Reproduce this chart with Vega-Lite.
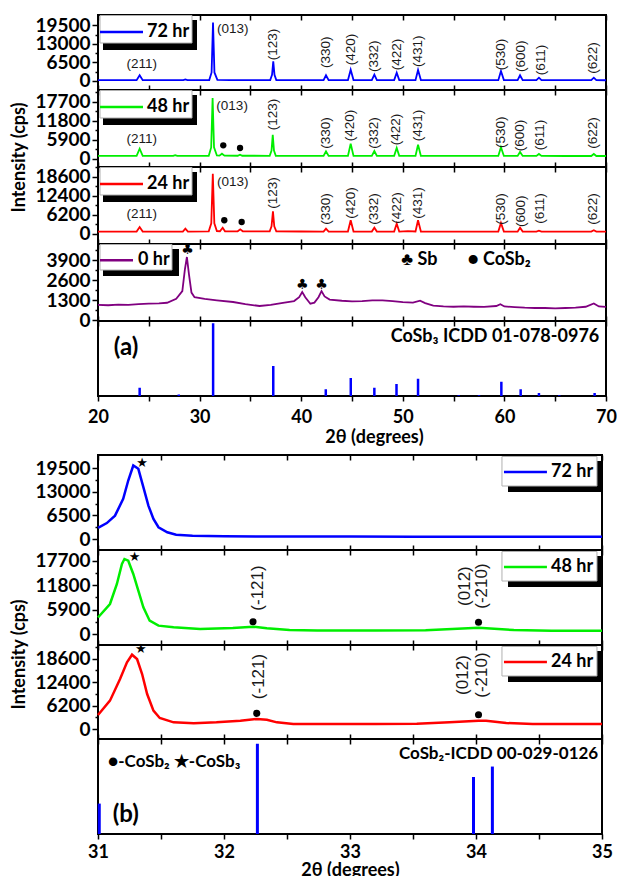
{
 "$schema": "https://vega.github.io/schema/vega-lite/v6.json",
 "padding": {"left": 9, "top": 13, "right": 0, "bottom": 0},
 "background": "white",
 "config": {
  "view": {"stroke": "black", "strokeWidth": 2},
  "axis": {"grid": false, "domain": false, "tickColor": "black", "tickWidth": 1.5, "labelFont": "Lato", "labelFontSize": 18, "labelFontWeight": "bold", "labelColor": "black", "titleFont": "Lato", "titleFontSize": 18, "titleFontWeight": "bold", "titleColor": "black", "labelOverlap": false},
  "axisY": {"labelPadding": 2, "titlePadding": 6, "labelFontSize": 19, "labelOverlap": false},
  "axisX": {"labelFlush": false},
  "text": {"font": "Liberation Sans", "fontSize": 13.5, "color": "#1a1a1a"}
 },
 "datasets": {
  "a72": [
   {"s":"72 hr","x":20,"y":280},{"s":"72 hr","x":22,"y":300},{"s":"72 hr","x":23.8,"y":290},{"s":"72 hr","x":24.1,"y":2000},{"s":"72 hr","x":24.4,"y":300},{"s":"72 hr","x":26,"y":290},{"s":"72 hr","x":28.4,"y":290},{"s":"72 hr","x":28.6,"y":550},{"s":"72 hr","x":28.8,"y":300},{"s":"72 hr","x":30.95,"y":320},{"s":"72 hr","x":31.18,"y":3000},{"s":"72 hr","x":31.32,"y":20500},{"s":"72 hr","x":31.46,"y":3000},{"s":"72 hr","x":31.75,"y":380},{"s":"72 hr","x":33,"y":330},{"s":"72 hr","x":35,"y":300},{"s":"72 hr","x":36.95,"y":310},{"s":"72 hr","x":37.13,"y":2200},{"s":"72 hr","x":37.25,"y":6900},{"s":"72 hr","x":37.37,"y":2200},{"s":"72 hr","x":37.55,"y":320},{"s":"72 hr","x":40,"y":300},{"s":"72 hr","x":42.2,"y":300},{"s":"72 hr","x":42.44,"y":2000},{"s":"72 hr","x":42.7,"y":300},{"s":"72 hr","x":44.6,"y":310},{"s":"72 hr","x":44.87,"y":3970},{"s":"72 hr","x":45.15,"y":320},{"s":"72 hr","x":46.95,"y":310},{"s":"72 hr","x":47.2,"y":2200},{"s":"72 hr","x":47.45,"y":310},{"s":"72 hr","x":49.15,"y":310},{"s":"72 hr","x":49.4,"y":2900},{"s":"72 hr","x":49.65,"y":310},{"s":"72 hr","x":51.25,"y":310},{"s":"72 hr","x":51.5,"y":3850},{"s":"72 hr","x":51.78,"y":310},{"s":"72 hr","x":55,"y":290},{"s":"72 hr","x":59.4,"y":300},{"s":"72 hr","x":59.66,"y":3500},{"s":"72 hr","x":59.95,"y":300},{"s":"72 hr","x":61.3,"y":290},{"s":"72 hr","x":61.54,"y":2000},{"s":"72 hr","x":61.8,"y":290},{"s":"72 hr","x":63.15,"y":280},{"s":"72 hr","x":63.4,"y":1150},{"s":"72 hr","x":63.65,"y":280},{"s":"72 hr","x":66,"y":280},{"s":"72 hr","x":68.55,"y":280},{"s":"72 hr","x":68.8,"y":1150},{"s":"72 hr","x":69.05,"y":280},{"s":"72 hr","x":70,"y":270}
  ],
  "a48": [
   {"s":"48 hr","x":20,"y":850},{"s":"48 hr","x":22,"y":870},{"s":"48 hr","x":23.8,"y":870},{"s":"48 hr","x":24.1,"y":3100},{"s":"48 hr","x":24.4,"y":880},{"s":"48 hr","x":26,"y":870},{"s":"48 hr","x":27.4,"y":870},{"s":"48 hr","x":27.6,"y":1100},{"s":"48 hr","x":27.8,"y":870},{"s":"48 hr","x":30.9,"y":900},{"s":"48 hr","x":31.14,"y":3500},{"s":"48 hr","x":31.28,"y":18850},{"s":"48 hr","x":31.42,"y":3500},{"s":"48 hr","x":31.7,"y":1000},{"s":"48 hr","x":31.95,"y":950},{"s":"48 hr","x":32.2,"y":1550},{"s":"48 hr","x":32.45,"y":950},{"s":"48 hr","x":33.75,"y":920},{"s":"48 hr","x":33.98,"y":1250},{"s":"48 hr","x":34.2,"y":920},{"s":"48 hr","x":36.9,"y":900},{"s":"48 hr","x":37.08,"y":2500},{"s":"48 hr","x":37.2,"y":7450},{"s":"48 hr","x":37.32,"y":2500},{"s":"48 hr","x":37.5,"y":900},{"s":"48 hr","x":40,"y":880},{"s":"48 hr","x":42.2,"y":870},{"s":"48 hr","x":42.44,"y":2300},{"s":"48 hr","x":42.7,"y":870},{"s":"48 hr","x":44.6,"y":880},{"s":"48 hr","x":44.87,"y":4660},{"s":"48 hr","x":45.15,"y":880},{"s":"48 hr","x":46.95,"y":870},{"s":"48 hr","x":47.2,"y":2390},{"s":"48 hr","x":47.45,"y":870},{"s":"48 hr","x":49.15,"y":870},{"s":"48 hr","x":49.4,"y":3320},{"s":"48 hr","x":49.65,"y":870},{"s":"48 hr","x":51.25,"y":880},{"s":"48 hr","x":51.5,"y":4350},{"s":"48 hr","x":51.78,"y":880},{"s":"48 hr","x":55,"y":860},{"s":"48 hr","x":59.4,"y":860},{"s":"48 hr","x":59.66,"y":3540},{"s":"48 hr","x":59.95,"y":860},{"s":"48 hr","x":61.3,"y":850},{"s":"48 hr","x":61.54,"y":2080},{"s":"48 hr","x":61.8,"y":850},{"s":"48 hr","x":63.15,"y":850},{"s":"48 hr","x":63.4,"y":1460},{"s":"48 hr","x":63.65,"y":850},{"s":"48 hr","x":66,"y":840},{"s":"48 hr","x":68.55,"y":840},{"s":"48 hr","x":68.8,"y":1460},{"s":"48 hr","x":69.05,"y":840},{"s":"48 hr","x":70,"y":830}
  ],
  "a24": [
   {"s":"24 hr","x":20,"y":780},{"s":"24 hr","x":22,"y":800},{"s":"24 hr","x":23.8,"y":800},{"s":"24 hr","x":24.1,"y":2280},{"s":"24 hr","x":24.4,"y":800},{"s":"24 hr","x":26,"y":790},{"s":"24 hr","x":28.35,"y":800},{"s":"24 hr","x":28.6,"y":1730},{"s":"24 hr","x":28.85,"y":800},{"s":"24 hr","x":30.9,"y":850},{"s":"24 hr","x":31.15,"y":3500},{"s":"24 hr","x":31.3,"y":19660},{"s":"24 hr","x":31.45,"y":3500},{"s":"24 hr","x":31.7,"y":950},{"s":"24 hr","x":32.0,"y":900},{"s":"24 hr","x":32.27,"y":2050},{"s":"24 hr","x":32.5,"y":900},{"s":"24 hr","x":33.75,"y":880},{"s":"24 hr","x":34.0,"y":1520},{"s":"24 hr","x":34.25,"y":870},{"s":"24 hr","x":36.9,"y":850},{"s":"24 hr","x":37.08,"y":2500},{"s":"24 hr","x":37.22,"y":7400},{"s":"24 hr","x":37.35,"y":2500},{"s":"24 hr","x":37.55,"y":850},{"s":"24 hr","x":40,"y":820},{"s":"24 hr","x":42.2,"y":800},{"s":"24 hr","x":42.44,"y":1740},{"s":"24 hr","x":42.7,"y":800},{"s":"24 hr","x":44.6,"y":810},{"s":"24 hr","x":44.87,"y":4460},{"s":"24 hr","x":45.15,"y":810},{"s":"24 hr","x":46.95,"y":800},{"s":"24 hr","x":47.2,"y":2060},{"s":"24 hr","x":47.45,"y":800},{"s":"24 hr","x":49.15,"y":800},{"s":"24 hr","x":49.4,"y":3370},{"s":"24 hr","x":49.65,"y":800},{"s":"24 hr","x":50.5,"y":950},{"s":"24 hr","x":51.25,"y":810},{"s":"24 hr","x":51.5,"y":4460},{"s":"24 hr","x":51.78,"y":810},{"s":"24 hr","x":55,"y":790},{"s":"24 hr","x":59.4,"y":790},{"s":"24 hr","x":59.66,"y":3590},{"s":"24 hr","x":59.95,"y":790},{"s":"24 hr","x":61.3,"y":780},{"s":"24 hr","x":61.54,"y":2060},{"s":"24 hr","x":61.8,"y":780},{"s":"24 hr","x":63.15,"y":780},{"s":"24 hr","x":63.4,"y":1100},{"s":"24 hr","x":63.65,"y":780},{"s":"24 hr","x":66,"y":780},{"s":"24 hr","x":68.55,"y":770},{"s":"24 hr","x":68.8,"y":1200},{"s":"24 hr","x":69.05,"y":770},{"s":"24 hr","x":70,"y":760}
  ],
  "a0": [
   {"s":"0 hr","x":20,"y":1000},{"s":"0 hr","x":21,"y":980},{"s":"0 hr","x":22,"y":1020},{"s":"0 hr","x":23,"y":1000},{"s":"0 hr","x":24,"y":1050},{"s":"0 hr","x":25,"y":1080},{"s":"0 hr","x":26,"y":1100},{"s":"0 hr","x":26.8,"y":1140},{"s":"0 hr","x":27.7,"y":1400},{"s":"0 hr","x":28.3,"y":1900},{"s":"0 hr","x":28.55,"y":3300},{"s":"0 hr","x":28.75,"y":4115},{"s":"0 hr","x":28.95,"y":3000},{"s":"0 hr","x":29.2,"y":1800},{"s":"0 hr","x":29.5,"y":1500},{"s":"0 hr","x":30.5,"y":1400},{"s":"0 hr","x":31.7,"y":1300},{"s":"0 hr","x":33.3,"y":1190},{"s":"0 hr","x":34.5,"y":1050},{"s":"0 hr","x":35.9,"y":930},{"s":"0 hr","x":37,"y":1000},{"s":"0 hr","x":38.2,"y":1140},{"s":"0 hr","x":39.3,"y":1250},{"s":"0 hr","x":39.8,"y":1500},{"s":"0 hr","x":40.1,"y":1840},{"s":"0 hr","x":40.4,"y":1500},{"s":"0 hr","x":40.9,"y":1080},{"s":"0 hr","x":41.3,"y":1150},{"s":"0 hr","x":41.7,"y":1500},{"s":"0 hr","x":42.0,"y":1900},{"s":"0 hr","x":42.3,"y":1550},{"s":"0 hr","x":42.8,"y":1350},{"s":"0 hr","x":44,"y":1270},{"s":"0 hr","x":45,"y":1230},{"s":"0 hr","x":46,"y":1250},{"s":"0 hr","x":47,"y":1300},{"s":"0 hr","x":48,"y":1290},{"s":"0 hr","x":49,"y":1250},{"s":"0 hr","x":50,"y":1180},{"s":"0 hr","x":51,"y":1150},{"s":"0 hr","x":51.7,"y":1280},{"s":"0 hr","x":52.2,"y":1120},{"s":"0 hr","x":53,"y":960},{"s":"0 hr","x":54,"y":900},{"s":"0 hr","x":55,"y":880},{"s":"0 hr","x":56,"y":900},{"s":"0 hr","x":57,"y":880},{"s":"0 hr","x":58,"y":870},{"s":"0 hr","x":59.2,"y":930},{"s":"0 hr","x":59.6,"y":1050},{"s":"0 hr","x":60,"y":900},{"s":"0 hr","x":61,"y":860},{"s":"0 hr","x":62,"y":820},{"s":"0 hr","x":63,"y":800},{"s":"0 hr","x":64,"y":800},{"s":"0 hr","x":65,"y":780},{"s":"0 hr","x":66,"y":800},{"s":"0 hr","x":67,"y":820},{"s":"0 hr","x":68,"y":880},{"s":"0 hr","x":68.8,"y":1100},{"s":"0 hr","x":69.3,"y":900},{"s":"0 hr","x":70,"y":870}
  ],
  "aref": [
   {"x":24.1,"h":11},{"x":27.95,"h":2},{"x":31.33,"h":97},{"x":37.25,"h":40},{"x":42.42,"h":9},{"x":44.88,"h":24},{"x":47.2,"h":11},{"x":49.38,"h":16},{"x":51.5,"h":23},{"x":55.5,"h":1},{"x":57.5,"h":1},{"x":59.7,"h":19},{"x":61.6,"h":9},{"x":63.4,"h":4},{"x":65.4,"h":1},{"x":68.88,"h":4}
  ],
  "hkl": [
   {"p":"72 hr","t":"(123)","x":37.25,"y":7270},{"p":"72 hr","t":"(330)","x":42.44,"y":4560},{"p":"72 hr","t":"(420)","x":44.87,"y":5500},{"p":"72 hr","t":"(332)","x":47.2,"y":3160},{"p":"72 hr","t":"(422)","x":49.4,"y":3750},{"p":"72 hr","t":"(431)","x":51.5,"y":4910},{"p":"72 hr","t":"(530)","x":59.7,"y":3750},{"p":"72 hr","t":"(600)","x":61.6,"y":3160},{"p":"72 hr","t":"(611)","x":63.6,"y":2000},{"p":"72 hr","t":"(622)","x":68.75,"y":2580},
   {"p":"48 hr","t":"(123)","x":37.2,"y":8800},{"p":"48 hr","t":"(330)","x":42.4,"y":3100},{"p":"48 hr","t":"(420)","x":44.85,"y":5400},{"p":"48 hr","t":"(332)","x":47.15,"y":3100},{"p":"48 hr","t":"(422)","x":49.35,"y":4150},{"p":"48 hr","t":"(431)","x":51.45,"y":5400},{"p":"48 hr","t":"(530)","x":59.65,"y":3320},{"p":"48 hr","t":"(600)","x":61.55,"y":2300},{"p":"48 hr","t":"(611)","x":63.5,"y":2600},{"p":"48 hr","t":"(622)","x":68.7,"y":3100},
   {"p":"24 hr","t":"(123)","x":37.25,"y":8250},{"p":"24 hr","t":"(330)","x":42.44,"y":3040},{"p":"24 hr","t":"(420)","x":44.87,"y":4990},{"p":"24 hr","t":"(332)","x":47.15,"y":3040},{"p":"24 hr","t":"(422)","x":49.4,"y":3360},{"p":"24 hr","t":"(431)","x":51.5,"y":4990},{"p":"24 hr","t":"(530)","x":59.7,"y":3040},{"p":"24 hr","t":"(600)","x":61.6,"y":2280},{"p":"24 hr","t":"(611)","x":63.55,"y":3360},{"p":"24 hr","t":"(622)","x":68.75,"y":3040}
  ],
  "hklh": [
   {"p":"72 hr","t":"(211)","x":24.3,"y":5970},{"p":"72 hr","t":"(013)","x":33.26,"y":18250},
   {"p":"48 hr","t":"(211)","x":24.3,"y":6000},{"p":"48 hr","t":"(013)","x":33.2,"y":16360},
   {"p":"24 hr","t":"(211)","x":24.3,"y":6620},{"p":"24 hr","t":"(013)","x":33.26,"y":16950}
  ],
  "dotsa": [
   {"p":"48 hr","x":32.33,"y":4160},{"p":"48 hr","x":33.98,"y":3320},
   {"p":"24 hr","x":32.43,"y":4470},{"p":"24 hr","x":34.14,"y":3910}
  ],
  "b72": [
   {"s":"72 hr","x":31.0,"y":3100},{"s":"72 hr","x":31.07,"y":4400},{"s":"72 hr","x":31.135,"y":6450},{"s":"72 hr","x":31.2,"y":11060},{"s":"72 hr","x":31.24,"y":16130},{"s":"72 hr","x":31.28,"y":20280},{"s":"72 hr","x":31.32,"y":19360},{"s":"72 hr","x":31.36,"y":14300},{"s":"72 hr","x":31.4,"y":9210},{"s":"72 hr","x":31.44,"y":5530},{"s":"72 hr","x":31.48,"y":3240},{"s":"72 hr","x":31.55,"y":1850},{"s":"72 hr","x":31.62,"y":1200},{"s":"72 hr","x":31.75,"y":900},{"s":"72 hr","x":32.0,"y":760},{"s":"72 hr","x":32.5,"y":690},{"s":"72 hr","x":33.0,"y":660},{"s":"72 hr","x":33.5,"y":650},{"s":"72 hr","x":34.0,"y":640},{"s":"72 hr","x":34.5,"y":630},{"s":"72 hr","x":35.0,"y":620}
  ],
  "b48": [
   {"s":"48 hr","x":31.0,"y":4000},{"s":"48 hr","x":31.095,"y":7260},{"s":"48 hr","x":31.15,"y":12100},{"s":"48 hr","x":31.19,"y":16940},{"s":"48 hr","x":31.21,"y":18150},{"s":"48 hr","x":31.24,"y":17740},{"s":"48 hr","x":31.28,"y":14520},{"s":"48 hr","x":31.32,"y":10480},{"s":"48 hr","x":31.36,"y":6450},{"s":"48 hr","x":31.41,"y":3230},{"s":"48 hr","x":31.48,"y":2020},{"s":"48 hr","x":31.6,"y":1610},{"s":"48 hr","x":31.81,"y":1210},{"s":"48 hr","x":32.07,"y":1450},{"s":"48 hr","x":32.23,"y":1770},{"s":"48 hr","x":32.34,"y":1370},{"s":"48 hr","x":32.52,"y":970},{"s":"48 hr","x":32.74,"y":850},{"s":"48 hr","x":33.2,"y":850},{"s":"48 hr","x":33.6,"y":900},{"s":"48 hr","x":34.02,"y":1500},{"s":"48 hr","x":34.3,"y":950},{"s":"48 hr","x":34.6,"y":800},{"s":"48 hr","x":35.0,"y":800}
  ],
  "b24": [
   {"s":"24 hr","x":31.0,"y":3700},{"s":"24 hr","x":31.095,"y":7480},{"s":"24 hr","x":31.175,"y":13200},{"s":"24 hr","x":31.23,"y":17600},{"s":"24 hr","x":31.27,"y":19620},{"s":"24 hr","x":31.31,"y":18480},{"s":"24 hr","x":31.35,"y":14520},{"s":"24 hr","x":31.39,"y":9240},{"s":"24 hr","x":31.44,"y":4840},{"s":"24 hr","x":31.49,"y":2900},{"s":"24 hr","x":31.6,"y":1760},{"s":"24 hr","x":31.76,"y":1500},{"s":"24 hr","x":31.94,"y":1760},{"s":"24 hr","x":32.13,"y":2200},{"s":"24 hr","x":32.26,"y":2640},{"s":"24 hr","x":32.34,"y":2460},{"s":"24 hr","x":32.42,"y":1760},{"s":"24 hr","x":32.55,"y":1320},{"s":"24 hr","x":32.74,"y":1320},{"s":"24 hr","x":33.2,"y":1320},{"s":"24 hr","x":33.53,"y":1400},{"s":"24 hr","x":33.79,"y":1760},{"s":"24 hr","x":34.02,"y":2200},{"s":"24 hr","x":34.08,"y":2200},{"s":"24 hr","x":34.24,"y":1580},{"s":"24 hr","x":34.45,"y":1320},{"s":"24 hr","x":35.0,"y":1320}
  ],
  "bref": [
   {"x":31.01,"h":32},{"x":32.265,"h":95},{"x":33.98,"h":60},{"x":34.13,"h":71}
  ],
  "starsb": [
   {"p":"72 hr","x":31.35,"y":21020},{"p":"48 hr","x":31.29,"y":18560},{"p":"24 hr","x":31.34,"y":21100}
  ],
  "dotsb": [
   {"p":"48 hr","x":32.23,"y":2980},{"p":"48 hr","x":34.02,"y":2830},
   {"p":"24 hr","x":32.26,"y":4130},{"p":"24 hr","x":34.02,"y":3780}
  ],
  "labb": [
   {"p":"48 hr","t":"(-121)","x":32.27,"y":11130},{"p":"48 hr","t":"(012)","x":33.91,"y":11600},{"p":"48 hr","t":"(-210)","x":34.05,"y":11600},
   {"p":"24 hr","t":"(-121)","x":32.28,"y":13860},{"p":"24 hr","t":"(012)","x":33.9,"y":14250},{"p":"24 hr","t":"(-210)","x":34.05,"y":14250}
  ]
 },
 "spacing": 6,
 "vconcat": [
  {
   "spacing": 0,
   "bounds": "flush",
   "vconcat": [
    {
     "width": 508, "height": 75,
     "resolve": {"axis": {"x": "independent"}},
     "layer": [
      {"data": {"name": "a72"}, "mark": {"type": "line", "strokeWidth": 1.8, "color": "#0000ff"},
       "encoding": {
        "x": {"field": "x", "type": "quantitative", "scale": {"domain": [20, 70], "nice": false, "zero": false}, "axis": {"values": [20,25,30,35,40,45,50,55,60,65,70], "labels": false, "tickSize": -5, "offset": 0, "title": null}},
        "y": {"field": "y", "type": "quantitative", "scale": {"domain": [-3160, 23170], "nice": false, "zero": false}, "axis": {"values": [0,3250,6500,9750,13000,16250,19500], "tickCount": 20, "labelExpr": "datum.value % 6500 === 0 ? format(datum.value, 'd') : ''", "tickSize": {"condition": {"test": "datum.value % 6500 === 0", "value": 6}, "value": 3}, "labelOverlap": false, "title": null}}
       }},
      {"data": {"name": "a72"}, "mark": {"type": "point", "opacity": 0},
       "encoding": {
        "x": {"field": "x", "type": "quantitative", "axis": {"orient": "top", "values": [20,25,30,35,40,45,50,55,60,65,70], "labels": false, "tickSize": -5, "offset": 0, "title": null}},
        "y": {"field": "y", "type": "quantitative"}
       }},
      {"data": {"values": [{}]}, "mark": {"type": "rect", "color": "black"},
       "encoding": {"x": {"datum": 20.492, "type": "quantitative", "axis": null}, "x2": {"datum": 29.744}, "y": {"datum": 21415, "type": "quantitative"}, "y2": {"datum": 10883}}},
      {"data": {"values": [{}]}, "mark": {"type": "rect", "fill": "white", "stroke": "#b0b0b0", "strokeWidth": 1},
       "encoding": {"x": {"datum": 20.197, "type": "quantitative", "axis": null}, "x2": {"datum": 29.252}, "y": {"datum": 22994, "type": "quantitative"}, "y2": {"datum": 13340}}},
      {"data": {"values": [{}]}, "mark": {"type": "rule", "color": "#0000ff", "strokeWidth": 2.5},
       "encoding": {"x": {"datum": 20.197, "type": "quantitative", "axis": null}, "x2": {"datum": 24.429}, "y": {"datum": 17202, "type": "quantitative"}}},
      {"data": {"values": [{"t": "72 hr"}]}, "mark": {"type": "text", "align": "left", "baseline": "middle", "font": "Lato", "fontWeight": "bold", "fontSize": 18, "color": "black"},
       "encoding": {"x": {"datum": 24.823, "type": "quantitative", "axis": null}, "y": {"datum": 17202, "type": "quantitative"}, "text": {"field": "t"}}},
      {"data": {"name": "hkl"}, "transform": [{"filter": "datum.p == '72 hr'"}], "mark": {"type": "text", "angle": 270, "align": "left", "baseline": "middle"},
       "encoding": {"x": {"field": "x", "type": "quantitative", "axis": null}, "y": {"field": "y", "type": "quantitative"}, "text": {"field": "t"}}},
      {"data": {"name": "hklh"}, "transform": [{"filter": "datum.p == '72 hr'"}], "mark": {"type": "text", "align": "center", "baseline": "middle"},
       "encoding": {"x": {"field": "x", "type": "quantitative", "axis": null}, "y": {"field": "y", "type": "quantitative"}, "text": {"field": "t"}}}
     ]
    },
    {
     "width": 508, "height": 77,
     "resolve": {"axis": {"x": "independent"}},
     "layer": [
      {"data": {"name": "a48"}, "mark": {"type": "line", "strokeWidth": 1.8, "color": "#00ee00"},
       "encoding": {
        "x": {"field": "x", "type": "quantitative", "scale": {"domain": [20, 70], "nice": false, "zero": false}, "axis": {"values": [20,25,30,35,40,45,50,55,60,65,70], "labels": false, "tickSize": -5, "offset": 0, "title": null}},
        "y": {"field": "y", "type": "quantitative", "scale": {"domain": [-2580, 21330], "nice": false, "zero": false}, "axis": {"values": [0,2950,5900,8850,11800,14750,17700,20650], "tickCount": 20, "labelExpr": "datum.value % 5900 === 0 ? format(datum.value, 'd') : ''", "tickSize": {"condition": {"test": "datum.value % 5900 === 0", "value": 6}, "value": 3}, "labelOverlap": false, "title": "Intensity (cps)", "titleY": 67}}
       }},
      {"data": {"name": "a48"}, "mark": {"type": "point", "opacity": 0},
       "encoding": {
        "x": {"field": "x", "type": "quantitative", "axis": {"orient": "top", "values": [20,25,30,35,40,45,50,55,60,65,70], "labels": false, "tickSize": -5, "offset": 0, "title": null}},
        "y": {"field": "y", "type": "quantitative"}
       }},
      {"data": {"values": [{}]}, "mark": {"type": "rect", "color": "black"},
       "encoding": {"x": {"datum": 20.492, "type": "quantitative", "axis": null}, "x2": {"datum": 29.744}, "y": {"datum": 19778, "type": "quantitative"}, "y2": {"datum": 10463}}},
      {"data": {"values": [{}]}, "mark": {"type": "rect", "fill": "white", "stroke": "#b0b0b0", "strokeWidth": 1},
       "encoding": {"x": {"datum": 20.197, "type": "quantitative", "axis": null}, "x2": {"datum": 29.252}, "y": {"datum": 21175, "type": "quantitative"}, "y2": {"datum": 12636}}},
      {"data": {"values": [{}]}, "mark": {"type": "rule", "color": "#00ee00", "strokeWidth": 2.5},
       "encoding": {"x": {"datum": 20.197, "type": "quantitative", "axis": null}, "x2": {"datum": 24.429}, "y": {"datum": 16051, "type": "quantitative"}}},
      {"data": {"values": [{"t": "48 hr"}]}, "mark": {"type": "text", "align": "left", "baseline": "middle", "font": "Lato", "fontWeight": "bold", "fontSize": 18, "color": "black"},
       "encoding": {"x": {"datum": 24.823, "type": "quantitative", "axis": null}, "y": {"datum": 16051, "type": "quantitative"}, "text": {"field": "t"}}},
      {"data": {"name": "hkl"}, "transform": [{"filter": "datum.p == '48 hr'"}], "mark": {"type": "text", "angle": 270, "align": "left", "baseline": "middle"},
       "encoding": {"x": {"field": "x", "type": "quantitative", "axis": null}, "y": {"field": "y", "type": "quantitative"}, "text": {"field": "t"}}},
      {"data": {"name": "hklh"}, "transform": [{"filter": "datum.p == '48 hr'"}], "mark": {"type": "text", "align": "center", "baseline": "middle"},
       "encoding": {"x": {"field": "x", "type": "quantitative", "axis": null}, "y": {"field": "y", "type": "quantitative"}, "text": {"field": "t"}}},
      {"data": {"name": "dotsa"}, "transform": [{"filter": "datum.p == '48 hr'"}], "mark": {"type": "point", "filled": true, "color": "black", "size": 40, "opacity": 1},
       "encoding": {"x": {"field": "x", "type": "quantitative", "axis": null}, "y": {"field": "y", "type": "quantitative"}}}
     ]
    },
    {
     "width": 508, "height": 77,
     "resolve": {"axis": {"x": "independent"}},
     "layer": [
      {"data": {"name": "a24"}, "mark": {"type": "line", "strokeWidth": 1.8, "color": "#ff0000"},
       "encoding": {
        "x": {"field": "x", "type": "quantitative", "scale": {"domain": [20, 70], "nice": false, "zero": false}, "axis": {"values": [20,25,30,35,40,45,50,55,60,65,70], "labels": false, "tickSize": -5, "offset": 0, "title": null}},
        "y": {"field": "y", "type": "quantitative", "scale": {"domain": [-3260, 21840], "nice": false, "zero": false}, "axis": {"values": [0,3100,6200,9300,12400,15500,18600,21700], "tickCount": 20, "labelExpr": "datum.value % 6200 === 0 ? format(datum.value, 'd') : ''", "tickSize": {"condition": {"test": "datum.value % 6200 === 0", "value": 6}, "value": 3}, "labelOverlap": false, "title": null}}
       }},
      {"data": {"name": "a24"}, "mark": {"type": "point", "opacity": 0},
       "encoding": {
        "x": {"field": "x", "type": "quantitative", "axis": {"orient": "top", "values": [20,25,30,35,40,45,50,55,60,65,70], "labels": false, "tickSize": -5, "offset": 0, "title": null}},
        "y": {"field": "y", "type": "quantitative"}
       }},
      {"data": {"values": [{}]}, "mark": {"type": "rect", "color": "black"},
       "encoding": {"x": {"datum": 20.492, "type": "quantitative", "axis": null}, "x2": {"datum": 29.744}, "y": {"datum": 20210, "type": "quantitative"}, "y2": {"datum": 10431}}},
      {"data": {"values": [{}]}, "mark": {"type": "rect", "fill": "white", "stroke": "#b0b0b0", "strokeWidth": 1},
       "encoding": {"x": {"datum": 20.197, "type": "quantitative", "axis": null}, "x2": {"datum": 29.252}, "y": {"datum": 21677, "type": "quantitative"}, "y2": {"datum": 12713}}},
      {"data": {"values": [{}]}, "mark": {"type": "rule", "color": "#ff0000", "strokeWidth": 2.5},
       "encoding": {"x": {"datum": 20.197, "type": "quantitative", "axis": null}, "x2": {"datum": 24.429}, "y": {"datum": 16298, "type": "quantitative"}}},
      {"data": {"values": [{"t": "24 hr"}]}, "mark": {"type": "text", "align": "left", "baseline": "middle", "font": "Lato", "fontWeight": "bold", "fontSize": 18, "color": "black"},
       "encoding": {"x": {"datum": 24.823, "type": "quantitative", "axis": null}, "y": {"datum": 16298, "type": "quantitative"}, "text": {"field": "t"}}},
      {"data": {"name": "hkl"}, "transform": [{"filter": "datum.p == '24 hr'"}], "mark": {"type": "text", "angle": 270, "align": "left", "baseline": "middle"},
       "encoding": {"x": {"field": "x", "type": "quantitative", "axis": null}, "y": {"field": "y", "type": "quantitative"}, "text": {"field": "t"}}},
      {"data": {"name": "hklh"}, "transform": [{"filter": "datum.p == '24 hr'"}], "mark": {"type": "text", "align": "center", "baseline": "middle"},
       "encoding": {"x": {"field": "x", "type": "quantitative", "axis": null}, "y": {"field": "y", "type": "quantitative"}, "text": {"field": "t"}}},
      {"data": {"name": "dotsa"}, "transform": [{"filter": "datum.p == '24 hr'"}], "mark": {"type": "point", "filled": true, "color": "black", "size": 40, "opacity": 1},
       "encoding": {"x": {"field": "x", "type": "quantitative", "axis": null}, "y": {"field": "y", "type": "quantitative"}}}
     ]
    },
    {
     "width": 508, "height": 77,
     "resolve": {"axis": {"x": "independent"}},
     "layer": [
      {"data": {"name": "a0"}, "mark": {"type": "line", "strokeWidth": 1.8, "color": "#800080"},
       "encoding": {
        "x": {"field": "x", "type": "quantitative", "scale": {"domain": [20, 70], "nice": false, "zero": false}, "axis": {"values": [20,25,30,35,40,45,50,55,60,65,70], "labels": false, "tickSize": -5, "offset": 0, "title": null}},
        "y": {"field": "y", "type": "quantitative", "scale": {"domain": [-45, 4960], "nice": false, "zero": false}, "axis": {"values": [0,650,1300,1950,2600,3250,3900,4550], "tickCount": 20, "labelExpr": "datum.value % 1300 === 0 ? format(datum.value, 'd') : ''", "tickSize": {"condition": {"test": "datum.value % 1300 === 0", "value": 6}, "value": 3}, "labelOverlap": false, "title": null}}
       }},
      {"data": {"name": "a0"}, "mark": {"type": "point", "opacity": 0},
       "encoding": {
        "x": {"field": "x", "type": "quantitative", "axis": {"orient": "top", "values": [20,25,30,35,40,45,50,55,60,65,70], "labels": false, "tickSize": -5, "offset": 0, "title": null}},
        "y": {"field": "y", "type": "quantitative"}
       }},
      {"data": {"values": [{}]}, "mark": {"type": "rect", "color": "black"},
       "encoding": {"x": {"datum": 20.492, "type": "quantitative", "axis": null}, "x2": {"datum": 27.972}, "y": {"datum": 4635, "type": "quantitative"}, "y2": {"datum": 2880}}},
      {"data": {"values": [{}]}, "mark": {"type": "rect", "fill": "white", "stroke": "#b0b0b0", "strokeWidth": 1},
       "encoding": {"x": {"datum": 20.197, "type": "quantitative", "axis": null}, "x2": {"datum": 27.283}, "y": {"datum": 4927, "type": "quantitative"}, "y2": {"datum": 3270}}},
      {"data": {"values": [{}]}, "mark": {"type": "rule", "color": "#800080", "strokeWidth": 2.5},
       "encoding": {"x": {"datum": 20.197, "type": "quantitative", "axis": null}, "x2": {"datum": 23.445}, "y": {"datum": 3900, "type": "quantitative"}}},
      {"data": {"values": [{"t": "0 hr"}]}, "mark": {"type": "text", "align": "left", "baseline": "middle", "font": "Lato", "fontWeight": "bold", "fontSize": 18, "color": "black"},
       "encoding": {"x": {"datum": 23.937, "type": "quantitative", "axis": null}, "y": {"datum": 3900, "type": "quantitative"}, "text": {"field": "t"}}},
      {"data": {"values": [{"x":28.8,"y":4550,"t":"♣"},{"x":40.1,"y":2275,"t":"♣"},{"x":42.0,"y":2310,"t":"♣"}]}, "mark": {"type": "text", "align": "center", "baseline": "middle", "font": "DejaVu Sans", "fontSize": 14, "color": "black"},
       "encoding": {"x": {"field": "x", "type": "quantitative", "axis": null}, "y": {"field": "y", "type": "quantitative"}, "text": {"field": "t"}}},
      {"data": {"values": [{"x":49.85,"y":3900,"t":"♣ Sb"},{"x":56.4,"y":3900,"t":"● CoSb₂"}]}, "mark": {"type": "text", "align": "left", "baseline": "middle", "font": "Lato", "fontWeight": "bold", "fontSize": 18, "color": "black"},
       "encoding": {"x": {"field": "x", "type": "quantitative", "axis": null}, "y": {"field": "y", "type": "quantitative"}, "text": {"field": "t"}}}
     ]
    },
    {
     "width": 508, "height": 75,
     "resolve": {"axis": {"x": "independent"}},
     "layer": [
      {"data": {"name": "aref"}, "mark": {"type": "rule", "strokeWidth": 2.5, "color": "#0000ff"},
       "encoding": {
        "x": {"field": "x", "type": "quantitative", "scale": {"domain": [20, 70], "nice": false, "zero": false}, "axis": {"values": [20,25,30,35,40,45,50,55,60,65,70], "labelExpr": "datum.value % 10 === 0 ? datum.label : ''", "tickSize": 5, "offset": 0, "labelPadding": 7, "title": "2θ (degrees)", "titlePadding": 2, "titleX": 276}},
        "y": {"field": "h", "type": "quantitative", "scale": {"domain": [0, 100], "nice": false}, "axis": null},
        "y2": {"datum": 0}
       }},
      {"data": {"name": "aref"}, "mark": {"type": "point", "opacity": 0},
       "encoding": {
        "x": {"field": "x", "type": "quantitative", "axis": {"orient": "top", "values": [20,25,30,35,40,45,50,55,60,65,70], "labels": false, "tickSize": -5, "offset": 0, "title": null}},
        "y": {"field": "h", "type": "quantitative"}
       }},
      {"data": {"values": [{"x":22.76,"y":64.3,"t":"(a)"}]}, "mark": {"type": "text", "align": "center", "baseline": "middle", "font": "Lato", "fontWeight": "bold", "fontSize": 24, "color": "black"},
       "encoding": {"x": {"field": "x", "type": "quantitative", "axis": null}, "y": {"field": "y", "type": "quantitative"}, "text": {"field": "t"}}},
      {"data": {"values": [{"x":69.34,"y":78.7,"t":"CoSb₃ ICDD 01-078-0976"}]}, "mark": {"type": "text", "align": "right", "baseline": "middle", "font": "Lato", "fontWeight": "bold", "fontSize": 18, "color": "black"},
       "encoding": {"x": {"field": "x", "type": "quantitative", "axis": null}, "y": {"field": "y", "type": "quantitative"}, "text": {"field": "t"}}}
     ]
    }
   ]
  },
  {
   "spacing": 0,
   "bounds": "flush",
   "vconcat": [
    {
     "width": 504, "height": 95,
     "resolve": {"axis": {"x": "independent"}},
     "layer": [
      {"data": {"name": "b72"}, "mark": {"type": "line", "strokeWidth": 2.5, "color": "#0000ff"},
       "encoding": {
        "x": {"field": "x", "type": "quantitative", "scale": {"domain": [31, 35], "nice": false, "zero": false}, "axis": {"values": [31,31.5,32,32.5,33,33.5,34,34.5,35], "labels": false, "tickSize": -5, "offset": 0, "title": null}},
        "y": {"field": "y", "type": "quantitative", "scale": {"domain": [-3030, 23170], "nice": false, "zero": false}, "axis": {"values": [0,3250,6500,9750,13000,16250,19500], "tickCount": 20, "labelExpr": "datum.value % 6500 === 0 ? format(datum.value, 'd') : ''", "tickSize": {"condition": {"test": "datum.value % 6500 === 0", "value": 6}, "value": 3}, "labelOverlap": false, "title": null}}
       }},
      {"data": {"name": "b72"}, "mark": {"type": "point", "opacity": 0},
       "encoding": {
        "x": {"field": "x", "type": "quantitative", "axis": {"orient": "top", "values": [31,31.5,32,32.5,33,33.5,34,34.5,35], "labels": false, "tickSize": -5, "offset": 0, "title": null}},
        "y": {"field": "y", "type": "quantitative"}
       }},
      {"data": {"values": [{}]}, "mark": {"type": "rect", "color": "black"},
       "encoding": {"x": {"datum": 34.254, "type": "quantitative", "axis": null}, "x2": {"datum": 35}, "y": {"datum": 21515, "type": "quantitative"}, "y2": {"datum": 12966}}},
      {"data": {"values": [{}]}, "mark": {"type": "rect", "fill": "white", "stroke": "#b0b0b0", "strokeWidth": 1},
       "encoding": {"x": {"datum": 34.206, "type": "quantitative", "axis": null}, "x2": {"datum": 34.96}, "y": {"datum": 22756, "type": "quantitative"}, "y2": {"datum": 14620}}},
      {"data": {"values": [{}]}, "mark": {"type": "rule", "color": "#0000ff", "strokeWidth": 2.5},
       "encoding": {"x": {"datum": 34.222, "type": "quantitative", "axis": null}, "x2": {"datum": 34.563}, "y": {"datum": 18482, "type": "quantitative"}}},
      {"data": {"values": [{"t": "72 hr"}]}, "mark": {"type": "text", "align": "left", "baseline": "middle", "font": "Lato", "fontWeight": "bold", "fontSize": 18, "color": "black"},
       "encoding": {"x": {"datum": 34.595, "type": "quantitative", "axis": null}, "y": {"datum": 18482, "type": "quantitative"}, "text": {"field": "t"}}},
      {"data": {"name": "starsb"}, "transform": [{"filter": "datum.p == '72 hr'"}], "mark": {"type": "text", "text": "★", "font": "DejaVu Sans", "fontSize": 13, "color": "black", "align": "center", "baseline": "middle"},
       "encoding": {"x": {"field": "x", "type": "quantitative", "axis": null}, "y": {"field": "y", "type": "quantitative"}}}
     ]
    },
    {
     "width": 504, "height": 95,
     "resolve": {"axis": {"x": "independent"}},
     "layer": [
      {"data": {"name": "b48"}, "mark": {"type": "line", "strokeWidth": 2.5, "color": "#00ee00"},
       "encoding": {
        "x": {"field": "x", "type": "quantitative", "scale": {"domain": [31, 35], "nice": false, "zero": false}, "axis": {"values": [31,31.5,32,32.5,33,33.5,34,34.5,35], "labels": false, "tickSize": -5, "offset": 0, "title": null}},
        "y": {"field": "y", "type": "quantitative", "scale": {"domain": [-2660, 20330], "nice": false, "zero": false}, "axis": {"values": [0,2950,5900,8850,11800,14750,17700], "tickCount": 20, "labelExpr": "datum.value % 5900 === 0 ? format(datum.value, 'd') : ''", "tickSize": {"condition": {"test": "datum.value % 5900 === 0", "value": 6}, "value": 3}, "labelOverlap": false, "title": "Intensity (cps)", "titleY": 104}}
       }},
      {"data": {"name": "b48"}, "mark": {"type": "point", "opacity": 0},
       "encoding": {
        "x": {"field": "x", "type": "quantitative", "axis": {"orient": "top", "values": [31,31.5,32,32.5,33,33.5,34,34.5,35], "labels": false, "tickSize": -5, "offset": 0, "title": null}},
        "y": {"field": "y", "type": "quantitative"}
       }},
      {"data": {"values": [{}]}, "mark": {"type": "rect", "color": "black"},
       "encoding": {"x": {"datum": 34.254, "type": "quantitative", "axis": null}, "x2": {"datum": 35}, "y": {"datum": 18878, "type": "quantitative"}, "y2": {"datum": 11376}}},
      {"data": {"values": [{}]}, "mark": {"type": "rect", "fill": "white", "stroke": "#b0b0b0", "strokeWidth": 1},
       "encoding": {"x": {"datum": 34.206, "type": "quantitative", "axis": null}, "x2": {"datum": 34.96}, "y": {"datum": 19967, "type": "quantitative"}, "y2": {"datum": 12828}}},
      {"data": {"values": [{}]}, "mark": {"type": "rule", "color": "#00ee00", "strokeWidth": 2.5},
       "encoding": {"x": {"datum": 34.222, "type": "quantitative", "axis": null}, "x2": {"datum": 34.563}, "y": {"datum": 16216, "type": "quantitative"}}},
      {"data": {"values": [{"t": "48 hr"}]}, "mark": {"type": "text", "align": "left", "baseline": "middle", "font": "Lato", "fontWeight": "bold", "fontSize": 18, "color": "black"},
       "encoding": {"x": {"datum": 34.595, "type": "quantitative", "axis": null}, "y": {"datum": 16216, "type": "quantitative"}, "text": {"field": "t"}}},
      {"data": {"name": "starsb"}, "transform": [{"filter": "datum.p == '48 hr'"}], "mark": {"type": "text", "text": "★", "font": "DejaVu Sans", "fontSize": 13, "color": "black", "align": "center", "baseline": "middle"},
       "encoding": {"x": {"field": "x", "type": "quantitative", "axis": null}, "y": {"field": "y", "type": "quantitative"}}},
      {"data": {"name": "dotsb"}, "transform": [{"filter": "datum.p == '48 hr'"}], "mark": {"type": "point", "filled": true, "color": "black", "size": 50, "opacity": 1},
       "encoding": {"x": {"field": "x", "type": "quantitative", "axis": null}, "y": {"field": "y", "type": "quantitative"}}},
      {"data": {"name": "labb"}, "transform": [{"filter": "datum.p == '48 hr'"}], "mark": {"type": "text", "angle": 270, "align": "center", "baseline": "middle", "fontSize": 17},
       "encoding": {"x": {"field": "x", "type": "quantitative", "axis": null}, "y": {"field": "y", "type": "quantitative"}, "text": {"field": "t"}}}
     ]
    },
    {
     "width": 504, "height": 94,
     "resolve": {"axis": {"x": "independent"}},
     "layer": [
      {"data": {"name": "b24"}, "mark": {"type": "line", "strokeWidth": 2.5, "color": "#ff0000"},
       "encoding": {
        "x": {"field": "x", "type": "quantitative", "scale": {"domain": [31, 35], "nice": false, "zero": false}, "axis": {"values": [31,31.5,32,32.5,33,33.5,34,34.5,35], "labels": false, "tickSize": -5, "offset": 0, "title": null}},
        "y": {"field": "y", "type": "quantitative", "scale": {"domain": [-2640, 22180], "nice": false, "zero": false}, "axis": {"values": [0,3100,6200,9300,12400,15500,18600,21700], "tickCount": 20, "labelExpr": "datum.value % 6200 === 0 ? format(datum.value, 'd') : ''", "tickSize": {"condition": {"test": "datum.value % 6200 === 0", "value": 6}, "value": 3}, "labelOverlap": false, "title": null}}
       }},
      {"data": {"name": "b24"}, "mark": {"type": "point", "opacity": 0},
       "encoding": {
        "x": {"field": "x", "type": "quantitative", "axis": {"orient": "top", "values": [31,31.5,32,32.5,33,33.5,34,34.5,35], "labels": false, "tickSize": -5, "offset": 0, "title": null}},
        "y": {"field": "y", "type": "quantitative"}
       }},
      {"data": {"values": [{}]}, "mark": {"type": "rect", "color": "black"},
       "encoding": {"x": {"datum": 34.254, "type": "quantitative", "axis": null}, "x2": {"datum": 35}, "y": {"datum": 20596, "type": "quantitative"}, "y2": {"datum": 12411}}},
      {"data": {"values": [{}]}, "mark": {"type": "rect", "fill": "white", "stroke": "#b0b0b0", "strokeWidth": 1},
       "encoding": {"x": {"datum": 34.206, "type": "quantitative", "axis": null}, "x2": {"datum": 34.96}, "y": {"datum": 21784, "type": "quantitative"}, "y2": {"datum": 13995}}},
      {"data": {"values": [{}]}, "mark": {"type": "rule", "color": "#ff0000", "strokeWidth": 2.5},
       "encoding": {"x": {"datum": 34.222, "type": "quantitative", "axis": null}, "x2": {"datum": 34.563}, "y": {"datum": 17691, "type": "quantitative"}}},
      {"data": {"values": [{"t": "24 hr"}]}, "mark": {"type": "text", "align": "left", "baseline": "middle", "font": "Lato", "fontWeight": "bold", "fontSize": 18, "color": "black"},
       "encoding": {"x": {"datum": 34.595, "type": "quantitative", "axis": null}, "y": {"datum": 17691, "type": "quantitative"}, "text": {"field": "t"}}},
      {"data": {"name": "starsb"}, "transform": [{"filter": "datum.p == '24 hr'"}], "mark": {"type": "text", "text": "★", "font": "DejaVu Sans", "fontSize": 13, "color": "black", "align": "center", "baseline": "middle"},
       "encoding": {"x": {"field": "x", "type": "quantitative", "axis": null}, "y": {"field": "y", "type": "quantitative"}}},
      {"data": {"name": "dotsb"}, "transform": [{"filter": "datum.p == '24 hr'"}], "mark": {"type": "point", "filled": true, "color": "black", "size": 50, "opacity": 1},
       "encoding": {"x": {"field": "x", "type": "quantitative", "axis": null}, "y": {"field": "y", "type": "quantitative"}}},
      {"data": {"name": "labb"}, "transform": [{"filter": "datum.p == '24 hr'"}], "mark": {"type": "text", "angle": 270, "align": "center", "baseline": "middle", "fontSize": 17},
       "encoding": {"x": {"field": "x", "type": "quantitative", "axis": null}, "y": {"field": "y", "type": "quantitative"}, "text": {"field": "t"}}}
     ]
    },
    {
     "width": 504, "height": 95,
     "resolve": {"axis": {"x": "independent"}},
     "layer": [
      {"data": {"name": "bref"}, "mark": {"type": "rule", "strokeWidth": 3, "color": "#0000ff"},
       "encoding": {
        "x": {"field": "x", "type": "quantitative", "scale": {"domain": [31, 35], "nice": false, "zero": false}, "axis": {"values": [31,31.5,32,32.5,33,33.5,34,34.5,35], "labelExpr": "datum.value % 1 === 0 ? format(datum.value, 'd') : ''", "tickSize": 5, "offset": 0, "labelPadding": 4, "title": "2θ (degrees)", "titlePadding": 0}},
        "y": {"field": "h", "type": "quantitative", "scale": {"domain": [0, 100], "nice": false}, "axis": null},
        "y2": {"datum": 0}
       }},
      {"data": {"name": "bref"}, "mark": {"type": "point", "opacity": 0},
       "encoding": {
        "x": {"field": "x", "type": "quantitative", "axis": {"orient": "top", "values": [31,31.5,32,32.5,33,33.5,34,34.5,35], "labels": false, "tickSize": -5, "offset": 0, "title": null}},
        "y": {"field": "h", "type": "quantitative"}
       }},
      {"data": {"values": [{"x":31.22,"y":20,"t":"(b)"}]}, "mark": {"type": "text", "align": "center", "baseline": "middle", "font": "Lato", "fontWeight": "bold", "fontSize": 24, "color": "black"},
       "encoding": {"x": {"field": "x", "type": "quantitative", "axis": null}, "y": {"field": "y", "type": "quantitative"}, "text": {"field": "t"}}},
      {"data": {"values": [{"x":31.08,"y":75.8,"t":"●-CoSb₂ ★-CoSb₃"}]}, "mark": {"type": "text", "align": "left", "baseline": "middle", "font": "Lato", "fontWeight": "bold", "fontSize": 17, "color": "black"},
       "encoding": {"x": {"field": "x", "type": "quantitative", "axis": null}, "y": {"field": "y", "type": "quantitative"}, "text": {"field": "t"}}},
      {"data": {"values": [{"x":34.97,"y":84.2,"t":"CoSb₂-ICDD 00-029-0126"}]}, "mark": {"type": "text", "align": "right", "baseline": "middle", "font": "Lato", "fontWeight": "bold", "fontSize": 17, "color": "black"},
       "encoding": {"x": {"field": "x", "type": "quantitative", "axis": null}, "y": {"field": "y", "type": "quantitative"}, "text": {"field": "t"}}}
     ]
    }
   ]
  }
 ]
}
